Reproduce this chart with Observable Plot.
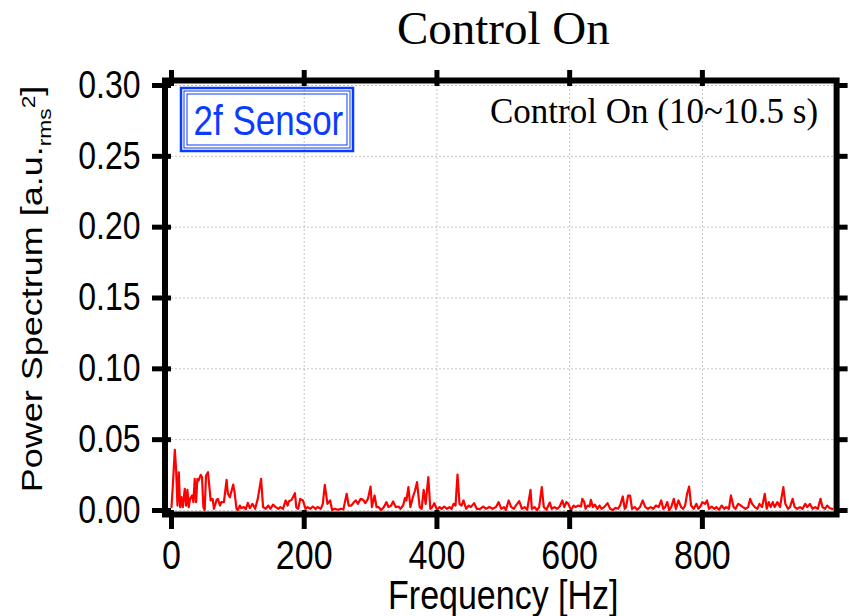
<!DOCTYPE html>
<html><head><meta charset="utf-8">
<script src="https://cdn.jsdelivr.net/npm/d3@7"></script>
<script src="https://cdn.jsdelivr.net/npm/@observablehq/plot@0.6"></script>
<style>body{margin:0;background:#fff}</style>
</head><body><div id="chart"></div>
<script>
const frequency = [0,2,5,7,9,11,13,15,17,20,22,24,26,28,31,33,35,37,39,41,44,46,48,50,52,55,59,62,64,68,70,73,75,79,83,85,88,93,95,98,100,103,105,109,112,115,118,122,126,130,135,138,142,146,149,153,157,161,164,168,172,175,177,181,183,186,188,191,194,
198,202,205,209,213,217,220,225,228,231,235,239,242,246,251,255,259,264,267,271,275,278,281,285,289,292,296,300,302,306,309,312,316,320,324,327,331,334,338,342,345,349,352,354,357,360,364,367,370,374,377,380,383,387,390,393,
396,400,404,407,411,415,419,422,425,428,431,434,437,440,444,448,451,456,460,465,470,474,479,484,489,493,497,501,504,508,512,516,519,524,528,532,536,541,543,547,551,554,558,561,565,570,573,577,581,585,589,592,595,
598,602,606,609,613,617,619,622,624,627,630,632,635,638,642,645,648,652,657,661,665,669,673,676,680,683,685,688,691,694,698,702,706,710,714,718,722,726,730,734,738,741,744,747,750,753,757,760,764,768,771,774,777,780,783,787,791,794,797,
800,804,807,810,814,818,821,825,829,833,836,840,843,847,850,854,858,861,865,869,872,875,879,883,886,890,894,897,900,903,906,909,913,917,919,922,925,929,932,936,939,943,947,951,955,958,962,966,970,974,978,981,985,988,992,996];
const power = [0.0024,0.0176,0.0428,0.0282,0.0035,0.0270,0.0024,0.0094,0.0024,0.0153,0.0035,0.0146,0.0024,0.0082,0.0106,0.0059,0.0223,0.0059,0.0223,0.0212,0.0252,0.0235,0.0024,0.0003,0.0247,0.0270,0.0071,0.0082,0.0012,0.0075,0.0082,0.0035,0.0059,0.0059,0.0216,0.0118,0.0094,0.0183,0.0129,0.0012,0.0003,0.0035,0.0016,0.0024,0.0009,0.0054,0.0016,0.0047,0.0012,0.0082,0.0223,0.0024,0.0012,0.0035,0.0012,0.0042,0.0024,0.0012,0.0024,0.0012,0.0071,0.0035,0.0066,0.0075,0.0094,0.0122,0.0024,0.0012,0.0082,
0.0071,0.0012,0.0024,0.0012,0.0028,0.0012,0.0024,0.0012,0.0047,0.0181,0.0047,0.0071,0.0003,0.0012,0.0005,0.0012,0.0007,0.0118,0.0035,0.0035,0.0059,0.0071,0.0047,0.0082,0.0075,0.0052,0.0082,0.0169,0.0024,0.0106,0.0024,0.0024,0.0003,0.0024,0.0059,0.0024,0.0035,0.0064,0.0024,0.0028,0.0012,0.0035,0.0089,0.0071,0.0165,0.0024,0.0099,0.0141,0.0200,0.0024,0.0012,0.0146,0.0047,0.0235,0.0012,0.0024,
0.0052,0.0005,0.0024,0.0012,0.0028,0.0012,0.0024,0.0012,0.0047,0.0035,0.0254,0.0047,0.0035,0.0071,0.0012,0.0035,0.0024,0.0052,0.0012,0.0012,0.0028,0.0012,0.0024,0.0012,0.0024,0.0059,0.0012,0.0024,0.0005,0.0071,0.0024,0.0012,0.0035,0.0066,0.0012,0.0024,0.0005,0.0146,0.0012,0.0024,0.0003,0.0024,0.0165,0.0024,0.0005,0.0056,0.0012,0.0024,0.0012,0.0028,0.0071,0.0024,0.0059,
0.0047,0.0003,0.0035,0.0024,0.0035,0.0028,0.0082,0.0059,0.0012,0.0035,0.0028,0.0075,0.0024,0.0042,0.0012,0.0035,0.0012,0.0024,0.0052,0.0012,0.0003,0.0019,0.0012,0.0035,0.0099,0.0012,0.0024,0.0106,0.0106,0.0012,0.0024,0.0005,0.0024,0.0071,0.0024,0.0012,0.0024,0.0012,0.0035,0.0024,0.0071,0.0012,0.0024,0.0059,0.0003,0.0024,0.0082,0.0012,0.0071,0.0024,0.0012,0.0035,0.0118,0.0169,0.0035,0.0012,0.0047,0.0012,0.0028,
0.0059,0.0047,0.0071,0.0012,0.0028,0.0012,0.0024,0.0005,0.0035,0.0012,0.0024,0.0012,0.0106,0.0024,0.0012,0.0047,0.0035,0.0024,0.0012,0.0024,0.0082,0.0047,0.0024,0.0012,0.0047,0.0024,0.0118,0.0012,0.0059,0.0024,0.0059,0.0024,0.0059,0.0024,0.0082,0.0165,0.0047,0.0012,0.0024,0.0082,0.0024,0.0012,0.0024,0.0012,0.0047,0.0024,0.0047,0.0012,0.0024,0.0012,0.0082,0.0024,0.0012,0.0035,0.0016,0.0012];
const xTicks = [0, 200, 400, 600, 800];
const yTicks = [0, 0.05, 0.10, 0.15, 0.20, 0.25, 0.30];
const titleText = "Control On";
const annotationText = "Control On (10~10.5 s)";
const legendText = "2f Sensor";
const xLabel = "Frequency [Hz]";
const yLabelParts = ["Power Spectrum [a.u.", "rms", "2", "]"];

const data = frequency.map((f, i) => ({f, p: power[i]}));
const sans = "'Liberation Sans', Arial, Helvetica, sans-serif";
const serif = "'Liberation Serif', 'Times New Roman', serif";
const blue = "#0a3cff";
const stretch = 1.2;

const chart = Plot.plot({
  width: 849, height: 616,
  marginLeft: 171, marginRight: 14.4, marginTop: 85, marginBottom: 106,
  style: {fontFamily: sans, background: "white", color: "black"},
  x: {domain: [0, 1000]},
  y: {domain: [0, 0.30]},
  marks: [
    Plot.gridX(xTicks.filter(d => d > 0), {stroke: "#c4c4c4", strokeOpacity: 1, strokeDasharray: "2,2", strokeWidth: 1}),
    Plot.gridY(yTicks, {stroke: "#c4c4c4", strokeOpacity: 1, strokeDasharray: "2,2", strokeWidth: 1}),
    Plot.line(data, {x: "f", y: "p", stroke: "#ff0000", strokeWidth: 2.2}),
    Plot.axisX({ticks: xTicks, tickSize: 19, tickPadding: 11, strokeWidth: 5, fontSize: 34, tickFormat: d => String(d), label: null}),
    Plot.axisX({anchor: "top", ticks: xTicks, tickSize: 16, strokeWidth: 5, tickFormat: () => "", label: null}),
    Plot.axisY({ticks: yTicks, tickSize: 19, tickPadding: 12, strokeWidth: 5, fontSize: 32, tickFormat: d3.format(".2f"), label: null}),
    Plot.axisY({anchor: "right", ticks: yTicks, tickSize: 12, strokeWidth: 5, tickFormat: () => "", label: null}),
    Plot.frame({stroke: "black", strokeWidth: 6, insetLeft: -6.5, insetTop: -5, insetBottom: -4, insetRight: -1.5}),
    Plot.text([titleText], {frameAnchor: "top", dy: -42, lineAnchor: "bottom", fontSize: 47, fontFamily: serif}),
    Plot.text([annotationText], {frameAnchor: "top-right", dx: -17, dy: 37, lineAnchor: "bottom", fontSize: 35, fontFamily: serif}),
    Plot.text([legendText], {frameAnchor: "top-left", dx: 22, dy: 49, lineAnchor: "bottom", fontSize: 35, fill: blue}),
    Plot.text([xLabel], {frameAnchor: "bottom", dy: 98, lineAnchor: "bottom", fontSize: 34})
  ]
});

const svg = d3.select(chart);
// vertical stretch of the sans-serif texts (the reference panel is stretched vertically)
svg.selectAll("text").each(function() {
  const g = this.closest("g[font-family]");
  if (g && /Serif/.test(g.getAttribute("font-family"))) return;
  const t = this.getAttribute("transform");
  if (t) this.setAttribute("transform", t + ` scale(1,${stretch})`);
  else {
    const x = +this.getAttribute("x") || 0, y = +this.getAttribute("y") || 0;
    this.removeAttribute("x"); this.removeAttribute("y");
    this.setAttribute("transform", `translate(${x},${y}) scale(1,${stretch})`);
  }
});

// legend box (triple border)
const box = svg.append("g").attr("fill", "none").attr("stroke", blue);
box.append("rect").attr("x", 181).attr("y", 88).attr("width", 172).attr("height", 63).attr("stroke-width", 2.5);
box.append("rect").attr("x", 184).attr("y", 91).attr("width", 166).attr("height", 57).attr("stroke-width", 1);
box.append("rect").attr("x", 187).attr("y", 94).attr("width", 160).attr("height", 51).attr("stroke-width", 1);

// y label with sub/superscript
const yl = svg.append("text")
  .attr("transform", `translate(42,289) scale(1,${stretch}) rotate(-90)`)
  .attr("text-anchor", "middle")
  .attr("font-family", sans)
  .attr("font-size", 30)
  .attr("fill", "black");
yl.append("tspan").text(yLabelParts[0]);
yl.append("tspan").attr("font-size", 19).attr("dy", 9).text(yLabelParts[1]);
yl.append("tspan").attr("font-size", 19).attr("dy", -16).text(yLabelParts[2]);
yl.append("tspan").attr("dy", 7).text(yLabelParts[3]);

document.getElementById("chart").appendChild(chart);
</script>
</body></html>
